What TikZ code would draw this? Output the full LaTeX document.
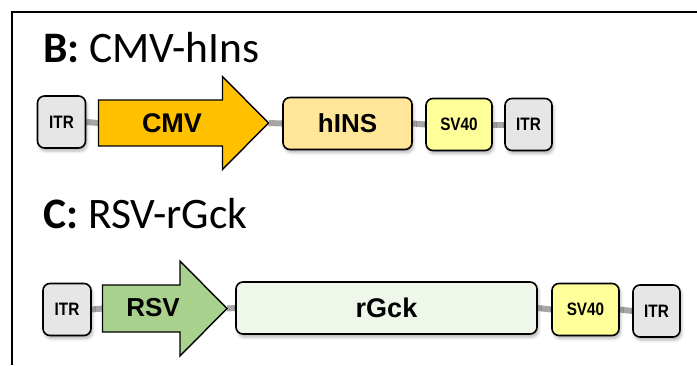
\documentclass[tikz,border=0pt]{standalone}
\usepackage{fontspec}
\usepackage{graphicx}
\newfontfamily\titlefont{Carlito}
\newfontfamily\labelfont{Liberation Sans}
\usetikzlibrary{shadows.blur,backgrounds}
\definecolor{itrgray}{HTML}{E6E6E6}
\definecolor{cmvorange}{HTML}{FFC000}
\definecolor{hinsfill}{HTML}{FFE699}
\definecolor{svfill}{HTML}{FFFF99}
\definecolor{rsvgreen}{HTML}{A9D18E}
\definecolor{rgckfill}{HTML}{EFF6EA}
\definecolor{connGray}{HTML}{A6A6A6}
\begin{document}
\begin{tikzpicture}[x=1pt,y=-1pt,
  box/.style={draw=black, line width=1.6pt, rounded corners=7pt, inner sep=0pt,
    minimum height=52pt,
    blur shadow={shadow xshift=1.5pt, shadow yshift=-3pt, shadow blur radius=3pt, shadow opacity=30}},
  promoter/.style={draw=black, line width=1.4pt, line join=miter},
  conn/.style={line width=6pt, draw=connGray},
  title/.style={anchor=base west, inner sep=0pt, font=\titlefont\fontsize{43.5}{52}\selectfont},
  big/.style={font=\labelfont\bfseries\fontsize{27}{32}\selectfont, inner sep=0pt},
  small/.style={font=\labelfont\bfseries\fontsize{18}{22}\selectfont},
]
\useasboundingbox (0,0) rectangle (697,365);
% frame
\draw[line width=1.2pt] (12,365) -- (12,12) -- (697,12);

% titles
\node[title] (titleB) at (43,62) {\textbf{B:} CMV-hIns};
\node[title] (titleC) at (43,228) {\textbf{C:} RSV-rGck};

% row B
\node[box, small, fill=itrgray, minimum width=48pt] (itrB1) at (61.5,122) {\scalebox{0.85}[1]{ITR}};
\draw[promoter, fill=cmvorange] (98.5,100) -- (222.5,100) -- (222.5,76.5) -- (268.5,123)
  -- (222.5,169.5) -- (222.5,146) -- (98.5,146) -- cycle;
\coordinate (cmvTail) at (98.5,123);
\coordinate (cmvTip) at (268.5,123);
\node[big] (cmvT) at (172,123) {CMV};
\node[box, big, font=\labelfont\bfseries\fontsize{26}{31}\selectfont, fill=hinsfill, minimum width=129pt] (hins) at (347.5,123.5) {hINS};
\node[box, small, fill=svfill, minimum width=66pt] (svB) at (459,124.5) {\scalebox{0.85}[1]{SV40}};
\node[box, small, fill=itrgray, minimum width=47pt] (itrB2) at (528.5,124.5) {\scalebox{0.85}[1]{ITR}};

% row C
\node[box, small, fill=itrgray, minimum width=48pt] (itrC1) at (67,309.5) {\scalebox{0.85}[1]{ITR}};
\draw[promoter, fill=rsvgreen] (102.5,285) -- (180,285) -- (180,261) -- (227,308.5)
  -- (180,356) -- (180,332) -- (102.5,332) -- cycle;
\coordinate (rsvTail) at (102.5,308.5);
\coordinate (rsvTip) at (227,308.5);
\node[big, font=\labelfont\bfseries\fontsize{26}{31}\selectfont] (rsvT) at (153,308) {RSV};
\node[box, big, fill=rgckfill, minimum width=301pt] (rgck) at (386.5,308) {rGck};
\node[box, small, fill=svfill, minimum width=67pt] (svC) at (585.5,309.5) {\scalebox{0.85}[1]{SV40}};
\node[box, small, fill=itrgray, minimum width=47pt] (itrC2) at (656.5,311) {\scalebox{0.85}[1]{ITR}};

% connectors
\begin{pgfonlayer}{background}
\draw[conn] (itrB1.east) -- (cmvTail);
\draw[conn] (cmvTip) -- (hins.west);
\draw[conn] (hins.east) -- (svB.west);
\draw[conn] (svB.east) -- (itrB2.west);
\draw[conn] (itrC1.east) -- (rsvTail);
\draw[conn] (rsvTip) -- (rgck.west);
\draw[conn] (rgck.east) -- (svC.west);
\draw[conn] (svC.east) -- (itrC2.west);
\end{pgfonlayer}
\end{tikzpicture}
\end{document}
